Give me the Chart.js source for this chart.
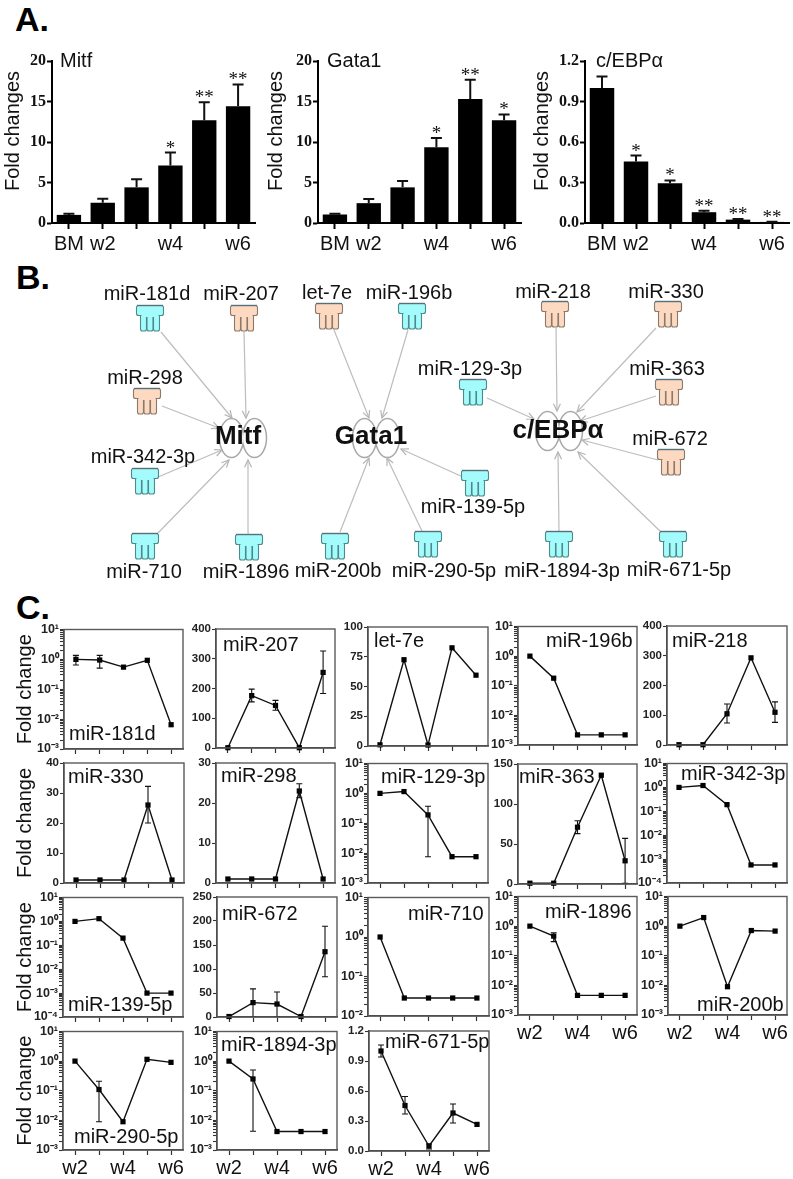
<!DOCTYPE html>
<html>
<head>
<meta charset="utf-8">
<script src="https://cdn.jsdelivr.net/npm/chart.js@4"></script>
<style>
  body { margin: 0; background: #fff; }
  #page { position: relative; width: 793px; height: 1179px; overflow: hidden; }
  #page canvas { position: absolute; }
  .letter { position: absolute; font: bold 34px "Liberation Sans"; color: #000; line-height: 1; }
</style>
</head>
<body>
<div id="page">
  <div class="letter" style="left:15px;top:2px">A.</div>
  <div class="letter" style="left:16px;top:260px">B.</div>
  <div class="letter" style="left:16px;top:590px">C.</div>
</div>
<script>
// panel A
const barLabels = ['BM', 'w2', '', 'w4', '', 'w6'];
const mitfValues = [1.0, 2.5, 4.4, 7.1, 12.7, 14.4];
const mitfTops = [1.15, 3.0, 5.4, 8.7, 14.9, 17.1];
const mitfStars = ['', '', '', '*', '**', '**'];
const gata1Values = [1.05, 2.45, 4.4, 9.35, 15.3, 12.7];
const gata1Tops = [1.15, 2.95, 5.2, 10.5, 17.7, 13.4];
const gata1Stars = ['', '', '', '*', '**', '*'];
const cebpValues = [1.0, 0.455, 0.295, 0.08, 0.025, 0.008];
const cebpTops = [1.085, 0.5, 0.315, 0.09, 0.03, 0.01];
const cebpStars = ['', '*', '*', '**', '**', '**'];

// panel B
const nodeNames = ['miR-181d', 'miR-207', 'let-7e', 'miR-196b', 'miR-218', 'miR-330', 'miR-298', 'miR-129-3p', 'miR-363',
  'miR-672', 'miR-342-3p', 'miR-139-5p', 'miR-710', 'miR-1896', 'miR-200b', 'miR-290-5p', 'miR-1894-3p', 'miR-671-5p'];
const nodeKinds = ['down', 'up', 'up', 'down', 'up', 'up', 'up', 'down', 'up',
  'up', 'down', 'down', 'down', 'down', 'down', 'down', 'down', 'down'];
const nodeX = [150, 244, 329, 412, 555, 668, 147, 473, 669, 671, 145, 475, 145, 249, 335, 428, 559, 673];
const nodeY = [318, 318, 316, 316, 314, 314, 401, 392, 392, 462, 481, 483, 546, 547, 546, 544, 544, 544];
const nodeLabelX = [147, 241, 327, 409, 553, 666, 145, 470, 667, 670, 143, 473, 144, 246, 338, 444, 562, 679];
const nodeLabelY = [294, 294, 293, 293, 292, 292, 378, 369, 369, 439, 457, 507, 572, 572, 571, 571, 571, 570];
const edgeStartX = [161, 244, 162, 158, 158, 249, 334, 408, 463, 340, 422, 556, 656, 487, 656, 658, 559, 660];
const edgeStartY = [332, 332, 406, 477, 533, 533, 330, 330, 477, 532, 531, 328, 328, 398, 396, 460, 531, 531];
const edgeEndX = [232, 246, 219, 222, 229, 248, 369, 382, 401, 369, 387, 557, 577, 534, 580, 582, 558, 578];
const edgeEndY = [418, 418, 428, 450, 460, 460, 418, 418, 449, 458, 458, 411, 412, 419, 421, 440, 452, 452];
const geneNames = ['Mitf', 'Gata1', 'c/EBP\u03b1'];
const geneX = [238, 371, 558];
const geneY = [437, 437, 431];
const dimerX = [243, 376, 559];
const dimerY = [438, 438, 431];

// panel C
const weeks = ['w2', '', 'w4', '', 'w6'];
const miR181dValues = [1.0, 0.95, 0.55, 0.93, 0.0065];
const miR181dLow = [0.65, 0.51, null, null, null];
const miR181dHigh = [1.36, 1.36, null, null, null];
const miR207Values = [1, 176, 143, 1, 254];
const miR207Low = [null, 155, 127, null, 183];
const miR207High = [null, 198, 160, null, 326];
const let7eValues = [1, 72.5, 0.8, 82.5, 59.5];
const miR196bValues = [1, 0.18, 0.0022, 0.0022, 0.0022];
const miR218Values = [1, 1, 105, 293, 110];
const miR218Low = [null, null, 74, null, 76];
const miR218High = [null, null, 138, null, 145];
const miR330Values = [1, 1, 1, 26, 1];
const miR330Low = [null, null, null, 20, null];
const miR330High = [null, null, null, 32.2, null];
const miR298Values = [1, 1, 1, 23, 1];
const miR298Low = [null, null, null, 21.3, null];
const miR298High = [null, null, null, 24.8, null];
const miR129Values = [1, 1.15, 0.19, 0.0076, 0.0076];
const miR129Low = [null, null, 0.0076, null, null];
const miR129High = [null, null, 0.37, null, null];
const miR363Values = [1, 1, 71, 136, 29];
const miR363Low = [null, null, 63, null, 1];
const miR363High = [null, null, 79, null, 57];
const miR342Values = [1, 1.2, 0.19, 0.00057, 0.00057];
const miR139Values = [1, 1.3, 0.2, 0.001, 0.001];
const miR672Values = [1, 30, 27, 1, 136];
const miR672Low = [null, 1, 1, null, 84];
const miR672High = [null, 58.6, 52, null, 189];
const miR710Values = [1, 0.0285, 0.0285, 0.0285, 0.0285];
const miR1896Values = [1, 0.46, 0.0046, 0.0046, 0.0046];
const miR1896Low = [null, 0.3, null, null, null];
const miR1896High = [null, 0.6, null, null, null];
const miR200bValues = [1, 1.95, 0.009, 0.71, 0.68];
const miR290Values = [1, 0.11, 0.009, 1.15, 0.91];
const miR290Low = [null, 0.009, null, null, null];
const miR290High = [null, 0.21, null, null, null];
const miR1894Values = [1, 0.25, 0.0042, 0.0042, 0.0042];
const miR1894Low = [null, 0.0043, null, null, null];
const miR1894High = [null, 0.5, null, null, null];
const miR671Values = [1.0, 0.455, 0.05, 0.38, 0.266];
const miR671Low = [0.94, 0.37, 0.02, 0.28, null];
const miR671High = [1.06, 0.545, 0.07, 0.47, null];

const page = document.getElementById('page');
const SANS = '"Liberation Sans"';

function addCanvas(x, y, w, h) {
    const c = document.createElement('canvas');
    c.width = w;
    c.height = h;
    c.style.left = x + 'px';
    c.style.top = y + 'px';
    page.appendChild(c);
    return c;
}

// error whiskers, read from dataset.errLow / dataset.errHigh
const errorBars = {
    id: 'errorBars',
    afterDatasetsDraw(chart, args, opts) {
        const ctx = chart.ctx;
        const ds = chart.data.datasets[0];
        if (!ds.errHigh) return;
        const y = chart.scales.y;
        const pts = chart.getDatasetMeta(0).data;
        ctx.save();
        ctx.strokeStyle = '#111';
        ctx.lineWidth = opts.width;
        ds.errHigh.forEach((hi, i) => {
            if (hi === null) return;
            const x = pts[i].x;
            const top = y.getPixelForValue(hi);
            const lo = ds.errLow ? ds.errLow[i] : ds.data[i];
            const bottom = y.getPixelForValue(lo);
            ctx.beginPath();
            ctx.moveTo(x, top);
            ctx.lineTo(x, bottom);
            ctx.moveTo(x - opts.cap, top);
            ctx.lineTo(x + opts.cap, top);
            if (ds.errLow) {
                ctx.moveTo(x - opts.cap, bottom);
                ctx.lineTo(x + opts.cap, bottom);
            }
            ctx.stroke();
        });
        ctx.restore();
    }
};

// free text placed in page coordinates
const notes = {
    id: 'notes',
    afterDraw(chart, args, opts) {
        const ctx = chart.ctx;
        const box = chart.canvas;
        (opts.items || []).forEach(n => {
            ctx.save();
            ctx.font = n.font;
            ctx.fillStyle = '#111';
            ctx.textAlign = n.align || 'left';
            ctx.textBaseline = n.baseline || 'alphabetic';
            ctx.translate(n.x - parseFloat(box.style.left), n.y - parseFloat(box.style.top));
            if (n.rotate) ctx.rotate(n.rotate);
            ctx.fillText(n.text, 0, 0);
            ctx.restore();
        });
    }
};

// significance stars above the whisker tops
const stars = {
    id: 'stars',
    afterDatasetsDraw(chart, args, opts) {
        if (!opts.marks) return;
        const ctx = chart.ctx;
        const ds = chart.data.datasets[0];
        const pts = chart.getDatasetMeta(0).data;
        ctx.save();
        ctx.font = '19px "Liberation Serif"';
        ctx.fillStyle = '#111';
        ctx.textAlign = 'center';
        opts.marks.forEach((m, i) => {
            if (m) ctx.fillText(m, pts[i].x, chart.scales.y.getPixelForValue(ds.errHigh[i]) + 1);
        });
        ctx.restore();
    }
};

// grey box around the plots of panel C
const frame = {
    id: 'frame',
    afterDatasetsDraw(chart, args, opts) {
        if (!opts.on) return;
        const a = chart.chartArea;
        chart.ctx.save();
        chart.ctx.strokeStyle = '#5a5a5a';
        chart.ctx.lineWidth = 1.4;
        chart.ctx.strokeRect(a.left, a.top, a.right - a.left, a.bottom - a.top);
        chart.ctx.restore();
    }
};

function barPanel(opt) {
    const M = { l: opt.left - opt.canvasX, t: 12, r: 14, b: 40 };
    const W = opt.right - opt.left, H = 162;
    const canvasY = 61 - M.t;
    const c = addCanvas(opt.canvasX, canvasY, W + M.l + M.r, H + M.t + M.b);
    new Chart(c, {
        type: 'bar',
        data: {
            labels: barLabels,
            datasets: [{ data: opt.values, errHigh: opt.tops, backgroundColor: '#000', barPercentage: 0.72, categoryPercentage: 1 }]
        },
        options: {
            responsive: false,
            animation: false,
            layout: { autoPadding: false, padding: { top: M.t, right: M.r, left: 0, bottom: 0 } },
            plugins: {
                legend: { display: false },
                tooltip: { enabled: false },
                errorBars: { width: 2, cap: 5.5 },
                stars: { marks: opt.stars },
                notes: {
                    items: [
                        { text: opt.title, x: opt.titleX, y: 67, font: '20px ' + SANS },
                        { text: 'Fold changes', x: opt.axisTitleX, y: 131, font: '20px ' + SANS, align: 'center', baseline: 'middle', rotate: -Math.PI / 2 }
                    ]
                }
            },
            scales: {
                x: {
                    afterFit: s => { s.height = M.b; },
                    grid: { offset: false, drawOnChartArea: false, tickLength: 6, tickWidth: 2, tickColor: '#000' },
                    border: { color: '#000', width: 2 },
                    ticks: { font: { family: 'Liberation Sans', size: 20 }, color: '#111', padding: 3, autoSkip: false, maxRotation: 0 }
                },
                y: {
                    min: 0,
                    max: opt.max,
                    afterFit: s => { s.width = M.l; },
                    grid: { drawOnChartArea: false, tickLength: 5, tickWidth: 2, tickColor: '#000' },
                    border: { color: '#000', width: 2 },
                    ticks: {
                        stepSize: opt.step,
                        font: { family: 'Liberation Serif', size: 16, weight: 'bold' },
                        color: '#111',
                        padding: 1,
                        callback: v => opt.step < 1 ? v.toFixed(1) : v
                    }
                }
            }
        },
        plugins: [errorBars, stars, notes]
    });
}

barPanel({ canvasX: 0, left: 52, right: 255, values: mitfValues, tops: mitfTops, stars: mitfStars, max: 20, step: 5, title: 'Mitf', titleX: 60, axisTitleX: 13 });
barPanel({ canvasX: 262, left: 318, right: 521, values: gata1Values, tops: gata1Tops, stars: gata1Stars, max: 20, step: 5, title: 'Gata1', titleX: 327, axisTitleX: 276 });
barPanel({ canvasX: 527, left: 585, right: 789, values: cebpValues, tops: cebpTops, stars: cebpStars, max: 1.2, step: 0.3, title: 'c/EBP\u03b1', titleX: 596, axisTitleX: 542 });

// target icon of the network
function makeIcon(fill, edge) {
    const c = document.createElement('canvas');
    c.width = 30;
    c.height = 28;
    const g = c.getContext('2d');
    g.fillStyle = fill;
    g.strokeStyle = edge;
    g.lineWidth = 1.1;
    [[5.5, 6, 6, 21], [12, 6, 6, 21], [18.5, 6, 6, 21], [1.5, 1.5, 27, 10]].forEach(r => {
        g.beginPath();
        g.roundRect(r[0], r[1], r[2], r[3], 2);
        g.fill();
        g.stroke();
    });
    g.fillRect(6.5, 9, 17, 4);
    g.strokeStyle = '#55707a';
    g.lineWidth = 1.4;
    g.beginPath();
    g.moveTo(2, 1.5);
    g.lineTo(28, 1.5);
    g.stroke();
    return c;
}

// two overlapping lobes of a gene node, with no crossing lines inside
function makeDimer() {
    const c = document.createElement('canvas');
    c.width = 50;
    c.height = 44;
    const g = c.getContext('2d');
    g.strokeStyle = '#a8a8a8';
    g.lineWidth = 1.5;
    [[13.5, 36.5], [36.5, 13.5]].forEach(p => {
        g.save();
        const outside = new Path2D();
        outside.rect(0, 0, 50, 44);
        outside.ellipse(p[1], 22, 12, 19.5, 0, 0, Math.PI * 2);
        g.clip(outside, 'evenodd');
        g.beginPath();
        g.ellipse(p[0], 22, 12, 19.5, 0, 0, Math.PI * 2);
        g.stroke();
        g.restore();
    });
    return c;
}

const icons = { up: makeIcon('#fcd9c0', '#8a7a6c'), down: makeIcon('#a4fbfb', '#4d8a8a') };
const dimer = makeDimer();

const arrowHeads = {
    id: 'arrowHeads',
    afterDatasetsDraw(chart) {
        const ctx = chart.ctx;
        const { x, y } = chart.scales;
        ctx.save();
        ctx.strokeStyle = '#b5b5b5';
        ctx.lineWidth = 1.2;
        edgeEndX.forEach((ex, i) => {
            const x1 = x.getPixelForValue(ex), y1 = y.getPixelForValue(edgeEndY[i]);
            const a = Math.atan2(y1 - y.getPixelForValue(edgeStartY[i]), x1 - x.getPixelForValue(edgeStartX[i]));
            ctx.beginPath();
            ctx.moveTo(x1 - 8 * Math.cos(a - 0.45), y1 - 8 * Math.sin(a - 0.45));
            ctx.lineTo(x1, y1);
            ctx.lineTo(x1 - 8 * Math.cos(a + 0.45), y1 - 8 * Math.sin(a + 0.45));
            ctx.stroke();
        });
        ctx.restore();
    }
};

const edgeSets = edgeStartX.map((sx, i) => ({
    type: 'line',
    data: [{ x: sx, y: edgeStartY[i] }, { x: edgeEndX[i], y: edgeEndY[i] }],
    borderColor: '#bdbdbd',
    borderWidth: 1.2,
    pointRadius: 0,
    order: 3
}));

const networkItems = nodeNames.map((n, i) => ({ text: n, x: nodeLabelX[i], y: nodeLabelY[i], font: '20px ' + SANS, align: 'center', baseline: 'middle' }))
    .concat(geneNames.map((n, i) => ({ text: n, x: geneX[i], y: geneY[i], font: 'bold 26px ' + SANS, align: 'center', baseline: 'middle' })));

new Chart(addCanvas(0, 265, 793, 330), {
    type: 'scatter',
    data: {
        datasets: [
            { data: nodeX.map((v, i) => ({ x: v, y: nodeY[i] })), pointStyle: c => icons[nodeKinds[c.dataIndex]], order: 1 },
            { data: dimerX.map((v, i) => ({ x: v, y: dimerY[i] })), pointStyle: dimer, order: 2 }
        ].concat(edgeSets)
    },
    options: {
        responsive: false,
        animation: false,
        layout: { autoPadding: false, padding: 0 },
        plugins: {
            legend: { display: false },
            tooltip: { enabled: false },
            notes: { items: networkItems }
        },
        scales: {
            x: { type: 'linear', display: false, min: 0, max: 793 },
            y: { type: 'linear', display: false, min: 265, max: 595, reverse: true }
        }
    },
    plugins: [arrowHeads, notes]
});

const SUPERS = { '-': '\u207b', '0': '\u2070', '1': '\u00b9', '2': '\u00b2', '3': '\u00b3', '4': '\u2074' };

function logLabel(v) {
    const e = Math.log10(v);
    if (Math.abs(e - Math.round(e)) > 1e-6) return '';
    return '10' + String(Math.round(e)).split('').map(ch => SUPERS[ch]).join('');
}

// ticks at 1..9 of each decade, as on the reference's log axes
function fullLogTicks(scale) {
    const ticks = [];
    const lo = Math.round(Math.log10(scale.min)), hi = Math.round(Math.log10(scale.max));
    for (let e = lo; e < hi; e++) {
        for (let m = 1; m < 10; m++) {
            ticks.push({ value: Number(m + 'e' + e), major: m === 1 });
        }
    }
    ticks.push({ value: scale.max, major: true });
    scale.ticks = ticks;
}

function linePanel(p) {
    const M = { l: p.titled ? p.left - 4 : 48, t: 8, r: 8, b: 40 };
    const W = p.right - p.left, H = p.bottom - p.top;
    const canvasX = p.left - M.l, canvasY = p.top - M.t;
    const c = addCanvas(canvasX, canvasY, W + M.l + M.r, H + M.t + M.b);
    const isLog = p.min !== undefined && p.step === undefined;
    const yScale = {
        min: p.min === undefined ? 0 : p.min,
        max: p.max,
        afterFit: s => { s.width = M.l; },
        grid: { drawOnChartArea: false, tickLength: 4, tickWidth: 1.1, tickColor: '#333' },
        border: { color: '#333', width: 1.4 },
        title: {
            display: !!p.titled,
            text: 'Fold change',
            font: { family: 'Liberation Sans', size: 20 },
            color: '#111',
            padding: { top: 9, bottom: 0 }
        },
        ticks: {
            font: { family: 'Liberation Sans', size: isLog ? 12.5 : 11.5, weight: 'bold' },
            color: '#222',
            padding: 1,
            autoSkip: false
        }
    };
    if (isLog) {
        yScale.type = 'logarithmic';
        yScale.afterBuildTicks = fullLogTicks;
        yScale.ticks.callback = logLabel;
    } else {
        yScale.ticks.stepSize = p.step;
        yScale.ticks.callback = v => p.step < 1 ? v.toFixed(1) : v;
    }
    new Chart(c, {
        type: 'line',
        data: {
            labels: weeks,
            datasets: [{
                data: p.values,
                errLow: p.low,
                errHigh: p.high,
                borderColor: '#111',
                borderWidth: 1.4,
                tension: 0,
                pointStyle: 'rect',
                pointRadius: 3.7,
                pointBackgroundColor: '#000',
                pointBorderWidth: 0,
                clip: false
            }]
        },
        options: {
            responsive: false,
            animation: false,
            layout: { autoPadding: false, padding: { top: M.t, right: M.r, left: 0, bottom: 0 } },
            plugins: {
                legend: { display: false },
                tooltip: { enabled: false },
                errorBars: { width: 1.1, cap: 3 },
                frame: { on: true },
                notes: { items: [{ text: p.name, x: p.labelX, y: p.labelY, font: '20px ' + SANS }] }
            },
            scales: {
                x: {
                    offset: true,
                    afterFit: s => { s.height = M.b; },
                    grid: { offset: false, drawOnChartArea: false, tickLength: 5, tickWidth: 1.2, tickColor: '#333' },
                    border: { color: '#333', width: 1.4 },
                    ticks: {
                        font: { family: 'Liberation Sans', size: 20 },
                        color: '#111',
                        padding: 1,
                        autoSkip: false,
                        maxRotation: 0,
                        callback: function (v) { return p.weeks ? weeks[v] : ''; }
                    }
                },
                y: yScale
            }
        },
        plugins: [errorBars, frame, notes]
    });
}

[
    { name: 'miR-181d', left: 64, right: 183, top: 629, bottom: 749, min: 0.001, max: 10, values: miR181dValues, low: miR181dLow, high: miR181dHigh, labelX: 69, labelY: 740, titled: true },
    { name: 'miR-207', left: 216, right: 335, top: 629, bottom: 748, max: 400, step: 100, values: miR207Values, low: miR207Low, high: miR207High, labelX: 223, labelY: 651 },
    { name: 'let-7e', left: 368, right: 488, top: 627, bottom: 746, max: 100, step: 25, values: let7eValues, labelX: 374, labelY: 647 },
    { name: 'miR-196b', left: 518, right: 637, top: 626, bottom: 745, min: 0.001, max: 10, values: miR196bValues, labelX: 546, labelY: 647 },
    { name: 'miR-218', left: 667, right: 787, top: 626, bottom: 745, max: 400, step: 100, values: miR218Values, low: miR218Low, high: miR218High, labelX: 672, labelY: 647 },
    { name: 'miR-330', left: 64, right: 184, top: 763, bottom: 883, max: 40, step: 10, values: miR330Values, low: miR330Low, high: miR330High, labelX: 68, labelY: 783, titled: true },
    { name: 'miR-298', left: 216, right: 335, top: 763, bottom: 883, max: 30, step: 10, values: miR298Values, low: miR298Low, high: miR298High, labelX: 221, labelY: 782 },
    { name: 'miR-129-3p', left: 368, right: 488, top: 763, bottom: 883, min: 0.001, max: 10, values: miR129Values, low: miR129Low, high: miR129High, labelX: 381, labelY: 783 },
    { name: 'miR-363', left: 518, right: 637, top: 764, bottom: 884, max: 150, step: 50, values: miR363Values, low: miR363Low, high: miR363High, labelX: 519, labelY: 783 },
    { name: 'miR-342-3p', left: 667, right: 787, top: 763, bottom: 883, min: 0.0001, max: 10, values: miR342Values, labelX: 681, labelY: 780 },
    { name: 'miR-139-5p', left: 63, right: 183, top: 897, bottom: 1017, min: 0.0001, max: 10, values: miR139Values, labelX: 68, labelY: 1011, titled: true },
    { name: 'miR-672', left: 217, right: 337, top: 897, bottom: 1017, max: 250, step: 50, values: miR672Values, low: miR672Low, high: miR672High, labelX: 222, labelY: 920 },
    { name: 'miR-710', left: 368, right: 489, top: 897, bottom: 1016, min: 0.01, max: 10, values: miR710Values, labelX: 408, labelY: 920 },
    { name: 'miR-1896', left: 518, right: 637, top: 896, bottom: 1015, min: 0.001, max: 10, values: miR1896Values, low: miR1896Low, high: miR1896High, labelX: 545, labelY: 918, weeks: true },
    { name: 'miR-200b', left: 668, right: 787, top: 896, bottom: 1015, min: 0.001, max: 10, values: miR200bValues, labelX: 697, labelY: 1011, weeks: true },
    { name: 'miR-290-5p', left: 63, right: 183, top: 1031, bottom: 1150, min: 0.001, max: 10, values: miR290Values, low: miR290Low, high: miR290High, labelX: 74, labelY: 1143, titled: true, weeks: true },
    { name: 'miR-1894-3p', left: 217, right: 337, top: 1031, bottom: 1150, min: 0.001, max: 10, values: miR1894Values, low: miR1894Low, high: miR1894High, labelX: 221, labelY: 1051, weeks: true },
    { name: 'miR-671-5p', left: 369, right: 489, top: 1031, bottom: 1151, max: 1.2, step: 0.3, values: miR671Values, low: miR671Low, high: miR671High, labelX: 385, labelY: 1048, weeks: true }
].forEach(linePanel);
</script>
</body>
</html>
